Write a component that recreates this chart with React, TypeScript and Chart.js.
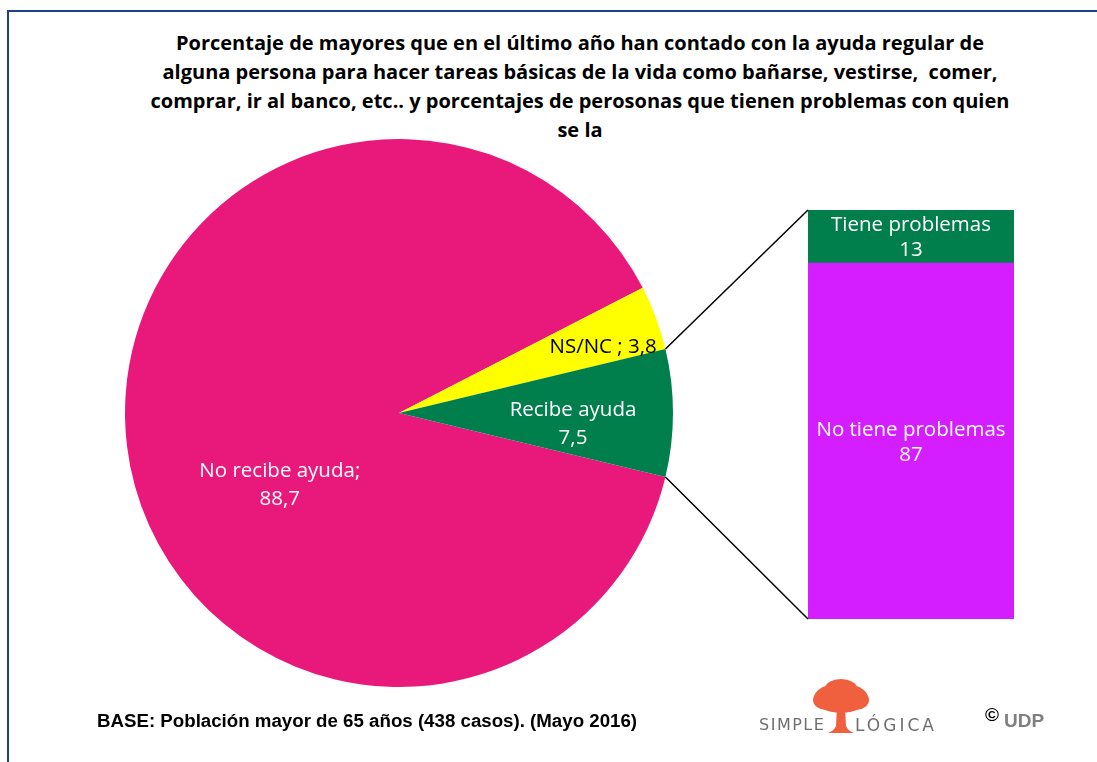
import { useEffect, useRef } from "react";
import { Chart, registerables } from "chart.js";
Chart.register(...registerables);

const titleLines = [
  "Porcentaje de mayores que en el último año han contado con la ayuda regular de",
  "alguna persona para hacer tareas básicas de la vida como bañarse, vestirse,  comer,",
  "comprar, ir al banco, etc.. y porcentajes de perosonas que tienen problemas con quien",
  "se la",
];
const pieCategories = ["No recibe ayuda", "NS/NC", "Recibe ayuda"];
const pieValues = [88.7, 3.8, 7.5];
const pieColors = ["#E9197B", "#FFFF00", "#007F4C"];
const barCategories = ["No tiene problemas", "Tiene problemas"];
const barValues = [87, 13];
const barColors = ["#D51EFF", "#007F4C"];
const footnote = "BASE: Población mayor de 65 años (438 casos). (Mayo 2016)";

const LABEL_FONT = "20.5px 'Open Sans'";
const fmt = (v: number) => v.toFixed(1).replace(".", ",");

// label anchors relative to pie centre, as fractions of radius
const pieLabelAnchors = [
  { dx: -0.435, dy: 0.262, color: "#ffffff" },
  { dx: 0.745, dy: -0.24, color: "#000000" },
  { dx: 0.635, dy: 0.04, color: "#ffffff" },
];
const pieLabelLines = (i: number): string[] => {
  const n = pieCategories[i];
  const v = fmt(pieValues[i]);
  if (i === 0) return [n + ";", v];
  if (i === 1) return [n + " ; " + v];
  return [n, v];
};

const PIE_BOX = { left: 125, top: 139, size: 548 };
const BAR_BOX = { left: 808, top: 210, width: 206, height: 409 };

export default function App() {
  const pieRef = useRef<HTMLCanvasElement>(null);
  const barRef = useRef<HTMLCanvasElement>(null);
  const overlayRef = useRef<HTMLCanvasElement>(null);

  useEffect(() => {
    const pieLabelPlugin = {
      id: "pieLabels",
      afterDatasetsDraw(chart: any) {
        const ctx = chart.ctx;
        const meta = chart.getDatasetMeta(0);
        ctx.save();
        ctx.font = LABEL_FONT;
        ctx.textAlign = "center";
        ctx.textBaseline = "middle";
        meta.data.forEach((arc: any, i: number) => {
          const a = pieLabelAnchors[i];
          const r = arc.outerRadius;
          const x = arc.x + a.dx * r;
          const y = arc.y + a.dy * r;
          const lines = pieLabelLines(i);
          const lh = 28;
          ctx.fillStyle = a.color;
          lines.forEach((t, k) => {
            ctx.fillText(t, x, y + (k - (lines.length - 1) / 2) * lh);
          });
        });
        ctx.restore();
      },
    };

    const pie = new Chart(pieRef.current!, {
      type: "pie",
      data: {
        labels: pieCategories,
        datasets: [
          {
            data: pieValues,
            backgroundColor: pieColors,
            borderWidth: 0,
          },
        ],
      },
      options: {
        responsive: false,
        animation: false,
        devicePixelRatio: 1,
        rotation: 103.5,
        layout: { padding: 0 },
        plugins: { legend: { display: false }, tooltip: { enabled: false }, title: { display: false } },
      },
      plugins: [pieLabelPlugin],
    });

    const barLabelPlugin = {
      id: "barLabels",
      afterDatasetsDraw(chart: any) {
        const ctx = chart.ctx;
        ctx.save();
        ctx.font = LABEL_FONT;
        ctx.textAlign = "center";
        ctx.textBaseline = "middle";
        ctx.fillStyle = "#ffffff";
        chart.data.datasets.forEach((ds: any, di: number) => {
          const el = chart.getDatasetMeta(di).data[0];
          const cy = (el.y + el.base) / 2 + (di === 1 ? 1 : 2);
          const lines = [barCategories[di], String(barValues[di])];
          ctx.fillText(lines[0], el.x, cy - 12.5);
          ctx.fillText(lines[1], el.x, cy + 12.5);
        });
        ctx.restore();
      },
    };

    const bar = new Chart(barRef.current!, {
      type: "bar",
      data: {
        labels: [""],
        datasets: barCategories.map((c, i) => ({
          label: c,
          data: [barValues[i]],
          backgroundColor: barColors[i],
          borderWidth: 0,
          barPercentage: 1,
          categoryPercentage: 1,
        })),
      },
      options: {
        responsive: false,
        animation: false,
        devicePixelRatio: 1,
        layout: { padding: 0 },
        scales: {
          x: { stacked: true, display: false },
          y: { stacked: true, display: false, min: 0, max: 100 },
        },
        plugins: { legend: { display: false }, tooltip: { enabled: false }, title: { display: false } },
      },
      plugins: [barLabelPlugin],
    });

    // connector lines between the "Recibe ayuda" slice and the stacked bar
    const ov = overlayRef.current!;
    const octx = ov.getContext("2d")!;
    octx.clearRect(0, 0, ov.width, ov.height);
    const arc: any = pie.getDatasetMeta(0).data[2];
    const ax = PIE_BOX.left + arc.x;
    const ay = PIE_BOX.top + arc.y;
    const r = arc.outerRadius;
    const p1 = { x: ax + r * Math.cos(arc.startAngle), y: ay + r * Math.sin(arc.startAngle) };
    const p2 = { x: ax + r * Math.cos(arc.endAngle), y: ay + r * Math.sin(arc.endAngle) };
    const topEl: any = bar.getDatasetMeta(1).data[0];
    const botEl: any = bar.getDatasetMeta(0).data[0];
    const bx = BAR_BOX.left + topEl.x - topEl.width / 2;
    const btop = BAR_BOX.top + topEl.y;
    const bbot = BAR_BOX.top + botEl.base;
    octx.strokeStyle = "#000000";
    octx.lineWidth = 1.5;
    octx.beginPath();
    octx.moveTo(p1.x, p1.y);
    octx.lineTo(bx, btop);
    octx.moveTo(p2.x, p2.y);
    octx.lineTo(bx, bbot);
    octx.stroke();

    return () => {
      pie.destroy();
      bar.destroy();
    };
  }, []);

  return (
    <div style={{ position: "absolute", left: 0, top: 0, width: 1097, height: 762, background: "#fff", overflow: "hidden" }}>
      {/* frame */}
      <div style={{ position: "absolute", left: 7, top: 10, width: 1100, height: 2, background: "#1F3F8F" }} />
      <div style={{ position: "absolute", left: 7, top: 10, width: 2, height: 760, background: "#1F3F8F" }} />

      {/* title */}
      {titleLines.map((t, i) => (
        <div
          key={i}
          style={{
            position: "absolute",
            left: 30,
            width: 1100,
            top: 29 + i * 29,
            height: 29,
            lineHeight: "29px",
            textAlign: "center",
            font: "bold 20px 'Open Sans'",
            color: "#000",
            whiteSpace: "pre",
          }}
        >
          {t}
        </div>
      ))}

      <canvas
        ref={pieRef}
        width={PIE_BOX.size}
        height={PIE_BOX.size}
        style={{ position: "absolute", left: PIE_BOX.left, top: PIE_BOX.top, width: PIE_BOX.size, height: PIE_BOX.size }}
      />
      <canvas
        ref={barRef}
        width={BAR_BOX.width}
        height={BAR_BOX.height}
        style={{ position: "absolute", left: BAR_BOX.left, top: BAR_BOX.top, width: BAR_BOX.width, height: BAR_BOX.height }}
      />
      <canvas
        ref={overlayRef}
        width={1097}
        height={762}
        style={{ position: "absolute", left: 0, top: 0, width: 1097, height: 762, pointerEvents: "none" }}
      />

      {/* footnote */}
      <div
        style={{
          position: "absolute",
          left: 97,
          top: 710,
          font: "bold 18.7px 'Liberation Sans', Arial, sans-serif",
          color: "#000",
          whiteSpace: "nowrap",
        }}
      >
        {footnote}
      </div>

      {/* logo */}
      <div style={{ position: "absolute", left: 759, top: 715, font: "16px 'DejaVu Sans', sans-serif", letterSpacing: "1.5px", color: "#6f6f6f" }}>
        SIMPLE
      </div>
      <div style={{ position: "absolute", left: 855, top: 715, font: "17px 'DejaVu Sans', sans-serif", letterSpacing: "3px", color: "#6f6f6f" }}>
        LÓGICA
      </div>
      <svg style={{ position: "absolute", left: 808, top: 678 }} width={66} height={58}>
        <g fill="#F0603F">
          <ellipse cx={33} cy={20} rx={27} ry={15} />
          <ellipse cx={18} cy={22} rx={13} ry={10} />
          <ellipse cx={48} cy={22} rx={13} ry={10} />
          <ellipse cx={33} cy={10} rx={16} ry={9} />
          <path d="M29 30 L37 30 L38 48 Q40 53 46 55 L20 55 Q26 53 28 48 Z" />
        </g>
      </svg>
      <div style={{ position: "absolute", left: 985, top: 704, font: "bold 19px 'Liberation Sans', Arial, sans-serif", color: "#000" }}>©</div>
      <div style={{ position: "absolute", left: 1004, top: 710, font: "bold 19px 'Liberation Sans', Arial, sans-serif", color: "#7f7f7f" }}>
        UDP
      </div>
    </div>
  );
}
